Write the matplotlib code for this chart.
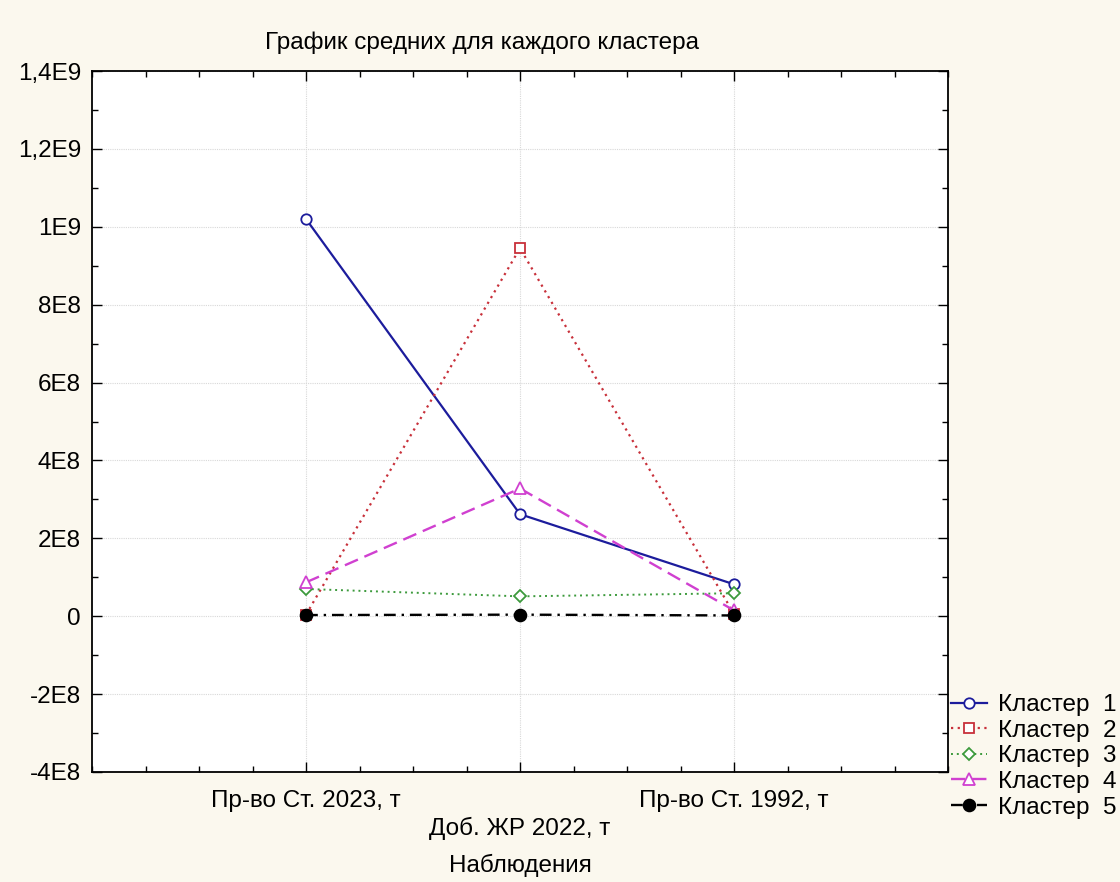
import matplotlib.pyplot as plt
from matplotlib.ticker import MultipleLocator, FixedLocator

plt.rcParams['font.family'] = ['Liberation Sans', 'DejaVu Sans']

variables = ["Пр-во Ст. 2023, т", "Доб. ЖР 2022, т", "Пр-во Ст. 1992, т"]
cluster_names = ["Кластер  1", "Кластер  2", "Кластер  3", "Кластер  4", "Кластер  5"]

cluster1 = [1.02e9, 2.62e8, 8.2e7]
cluster2 = [4e6, 9.45e8, 6e6]
cluster3 = [7.0e7, 5.1e7, 5.9e7]
cluster4 = [8.7e7, 3.28e8, 1.5e7]
cluster5 = [3e6, 4e6, 2e6]

y_ticks = [-4e8, -2e8, 0, 2e8, 4e8, 6e8, 8e8, 1e9, 1.2e9, 1.4e9]
y_tick_labels = ["-4E8", "-2E8", "0", "2E8", "4E8", "6E8", "8E8", "1E9", "1,2E9", "1,4E9"]

styles = [
    dict(color="#1c1c9c", linestyle="-", marker="o", mfc="white", lw=1.6, ms=7.5),
    dict(color="#c8303a", linestyle=(0, (1, 2)), marker="s", mfc="white", lw=1.6, ms=7.5),
    dict(color="#3c9a3c", linestyle=(0, (1, 2)), marker="D", mfc="white", lw=1.4, ms=6.5),
    dict(color="#d040d0", linestyle=(0, (6, 3)), marker="^", mfc="white", lw=1.7, ms=8),
    dict(color="black", linestyle=(0, (5, 2.5, 1, 2.5)), marker="o", mfc="black", lw=1.7, ms=8.5),
]

bg = "#fbf8ee"
fig = plt.figure(figsize=(11.2, 8.82), dpi=100, facecolor=bg)
ax = fig.add_axes([92 / 1120, 1 - 772 / 882, (948 - 92) / 1120, (772 - 71) / 882])

x = list(range(len(variables)))
for vals, name, st in zip([cluster1, cluster2, cluster3, cluster4, cluster5], cluster_names, styles):
    ax.plot(x, vals, label=name, mew=1.3, **st)

ax.set_xlim(-1, 3)
ax.set_ylim(-4e8, 1.4e9)
ax.yaxis.set_major_locator(FixedLocator(y_ticks))
ax.set_yticklabels(y_tick_labels)
ax.yaxis.set_minor_locator(MultipleLocator(1e8))
ax.set_xticks(x)
ax.set_xticklabels(variables)
ax.xaxis.set_minor_locator(MultipleLocator(0.25))

fs = 17.5
ax.tick_params(which="both", direction="in", top=True, right=True, width=1)
ax.tick_params(axis="y", labelsize=fs)
ax.tick_params(axis="x", labelsize=fs)
ax.tick_params(which="major", length=7)
ax.tick_params(axis="y", which="major", pad=8)
ax.tick_params(axis="x", which="major", pad=13)
ax.tick_params(which="minor", length=4)
# stagger the middle category label down a row
ax.get_xticklabels()[1].set_y(-0.038)

ax.grid(True, which="major", color="#d8d8d8", linestyle=(0, (1, 1)), lw=0.8)
ax.set_axisbelow(True)
for sp in ax.spines.values():
    sp.set_linewidth(1.3)

ax.set_xlabel("Наблюдения", fontsize=fs, va="center")
ax.xaxis.set_label_coords(0.5, (772 - 865) / 701)
fig.text(482 / 1120, 1 - 43 / 882, "График средних для каждого кластера", ha="center", va="center", fontsize=fs)

ax.legend(loc="upper left", bbox_to_anchor=(951 / 1120, 1 - 694 / 882), bbox_transform=fig.transFigure,
          frameon=False, fontsize=fs, handlelength=1.5, handletextpad=0.45, labelspacing=0.15,
          borderaxespad=0, borderpad=0)

fig.savefig("out.png", dpi=100, facecolor=bg)
